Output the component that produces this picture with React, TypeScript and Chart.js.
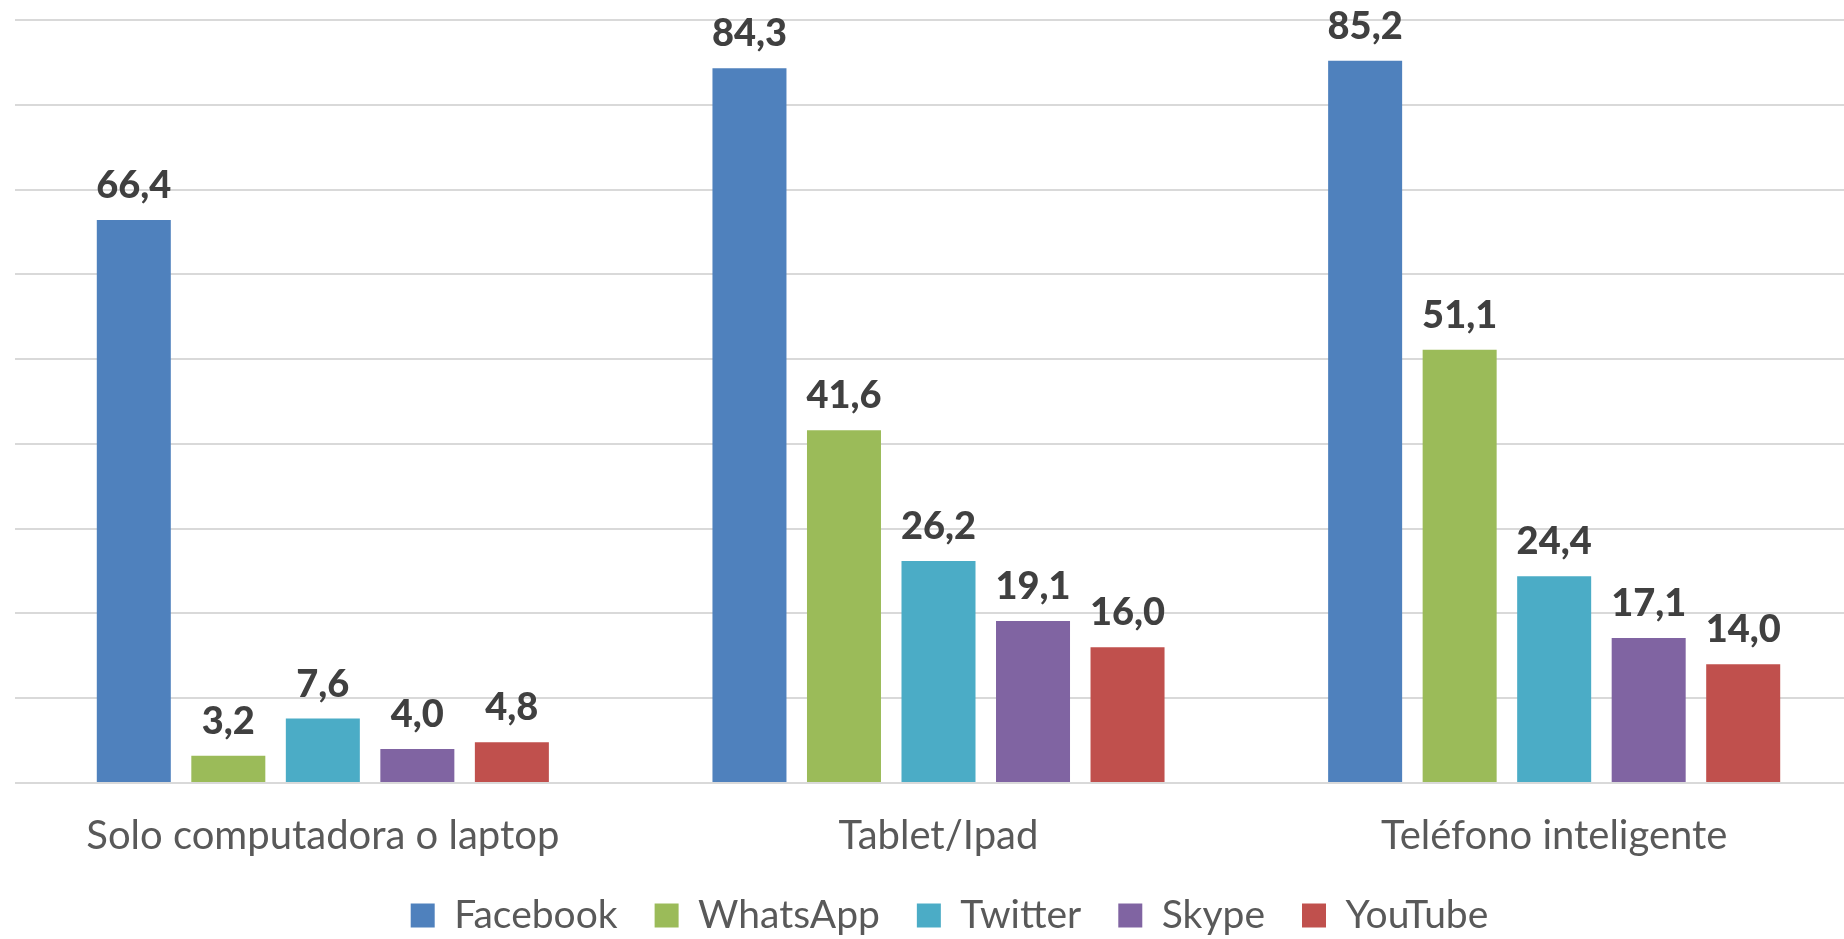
import React, { useEffect, useRef } from 'react';
import { Chart, registerables } from 'chart.js';

Chart.register(...registerables);

const categories = ['Solo computadora o laptop', 'Tablet/Ipad', 'Teléfono inteligente'];
const seriesNames = ['Facebook', 'WhatsApp', 'Twitter', 'Skype', 'YouTube'];
const facebook = [66.4, 84.3, 85.2];
const whatsapp = [3.2, 41.6, 51.1];
const twitter = [7.6, 26.2, 24.4];
const skype = [4.0, 19.1, 17.1];
const youtube = [4.8, 16.0, 14.0];
const seriesColors = ['#4F81BD', '#9BBB59', '#4BACC6', '#8064A2', '#C0504D'];
const yMin = 0;
const yMax = 90;
const yStep = 10;

const valueLabels = {
  id: 'valueLabels',
  afterDatasetsDraw(chart: any) {
    const ctx = chart.ctx;
    ctx.save();
    ctx.font = '900 38px Lato';
    ctx.fillStyle = '#404040';
    ctx.textAlign = 'center';
    ctx.textBaseline = 'alphabetic';
    chart.data.datasets.forEach((ds: any, i: number) => {
      const meta = chart.getDatasetMeta(i);
      meta.data.forEach((el: any, j: number) => {
        const v = ds.data[j] as number;
        const txt = v.toFixed(1).replace('.', ',');
        ctx.fillText(txt, el.x, el.y - 22);
      });
    });
    ctx.restore();
  },
};

export default function App() {
  const canvasRef = useRef<HTMLCanvasElement>(null);

  useEffect(() => {
    if (!canvasRef.current) return;
    const seriesData = [facebook, whatsapp, twitter, skype, youtube];
    const chart = new Chart(canvasRef.current, {
      type: 'bar',
      data: {
        labels: categories,
        datasets: seriesNames.map((name, i) => ({
          label: name,
          data: seriesData[i],
          backgroundColor: seriesColors[i],
          borderWidth: 0,
          categoryPercentage: 0.7676,
          barPercentage: 0.783,
          yAxisID: 'y',
        })),
      },
      options: {
        animation: false,
        responsive: true,
        maintainAspectRatio: false,
        layout: { padding: { left: 0, right: 0, top: 20, bottom: 0 } },
        plugins: {
          tooltip: { enabled: false },
          legend: {
            position: 'bottom',
            labels: {
              boxWidth: 24,
              boxHeight: 24,
              padding: 37,
              color: '#595959',
              font: { family: 'Lato', size: 39 },
            },
          },
        },
        scales: {
          x: {
            grid: { display: false, drawTicks: true, tickLength: 30 },
            border: { display: false },
            ticks: {
              color: '#595959',
              font: { family: 'Lato', size: 40, lineHeight: 1.15 },
              padding: 0,
              maxRotation: 0,
              autoSkip: false,
            },
          },
          y: {
            position: 'left',
            min: yMin,
            max: yMax,
            ticks: { display: false, stepSize: yStep },
            grid: { color: '#d9d9d9', lineWidth: 2, drawTicks: false },
            border: { display: false },
            afterFit(scale: any) {
              scale.width = 15;
            },
          },
          yRight: {
            position: 'right',
            display: true,
            ticks: { display: false },
            grid: { display: false, drawTicks: false },
            border: { display: false },
            afterFit(scale: any) {
              scale.width = 37;
            },
          },
        },
      },
      plugins: [valueLabels],
    });
    return () => chart.destroy();
  }, []);

  return (
    <div style={{ position: 'fixed', left: 0, top: 0, width: 1844, height: 939, overflow: 'hidden', background: '#fff' }}>
      <div style={{ position: 'relative', width: 1899, height: 945 }}>
        <canvas ref={canvasRef} />
      </div>
    </div>
  );
}
